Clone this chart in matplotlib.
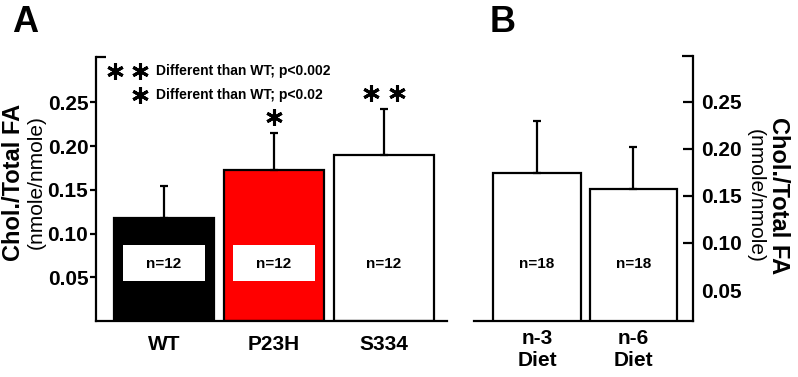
import matplotlib
matplotlib.use('Agg')
import matplotlib.pyplot as plt
import matplotlib.transforms as mtransforms
from matplotlib.patches import Rectangle
from matplotlib.ticker import FixedLocator

plt.rcParams['font.family'] = ['Liberation Sans', 'DejaVu Sans']

# ---------------- data ----------------
a_categories = ['WT', 'P23H', 'S334']
a_means = [0.118, 0.173, 0.190]
a_err = [0.037, 0.042, 0.053]
a_colors = ['#000000', '#ff0000', '#ffffff']
a_n = ['n=12', 'n=12', 'n=12']
a_sig = [0, 1, 2]

b_categories = ['n-3\nDiet', 'n-6\nDiet']
b_means = [0.174, 0.157]
b_err = [0.056, 0.045]
b_colors = ['#ffffff', '#ffffff']
b_n = ['n=18', 'n=18']

ytick_values = [0.05, 0.10, 0.15, 0.20, 0.25]
ytick_labels = ['0.05', '0.10', '0.15', '0.20', '0.25']
legend_entries = [(2, 'Different than WT; p<0.002'), (1, 'Different than WT; p<0.02')]
ylabel_main = 'Chol./Total FA'
ylabel_unit = '(nmole/nmole)'

# ---------------- layout ----------------
W, H = 798, 377
DPI = 100
fig = plt.figure(figsize=(W / DPI, H / DPI), dpi=DPI)

axA = fig.add_axes([96 / W, (H - 321) / H, (447 - 96) / W, (321 - 57) / H])
axB = fig.add_axes([474 / W, (H - 321) / H, (693 - 474) / W, (321 - 56) / H])

STAR = (6, 2, 0)
LW = 1.6
BAR_W = 0.91


def star_marks(ax, xs, ys, **kw):
    ax.plot(xs, ys, ls='none', marker=STAR, ms=12, mew=2.2, color='black',
            clip_on=False, **kw)


def draw_bars(ax, cats, means, errs, colors, nlabels):
    x = list(range(len(cats)))
    ax.bar(x, means, width=BAR_W, color=colors, edgecolor='black',
           linewidth=LW, zorder=2)
    ax.errorbar(x, means, yerr=[[0] * len(x), errs], fmt='none',
                ecolor='black', elinewidth=LW, capsize=3, capthick=LW, zorder=3)
    trans = mtransforms.blended_transform_factory(ax.transData, ax.transAxes)
    for xi, c, lab in zip(x, colors, nlabels):
        if c.lower() != '#ffffff':
            ax.add_patch(Rectangle((xi - 0.375, 0.046), 0.75, 0.041,
                                   facecolor='white', edgecolor='none', zorder=4))
        ax.text(xi, 0.215, lab, transform=trans, ha='center', va='center',
                fontsize=11, fontweight='bold', zorder=5)
    ax.set_xticks(x)
    ax.set_xticklabels(cats, fontsize=15, fontweight='bold')
    ax.tick_params(axis='x', length=0)
    return x


# ---------------- panel A ----------------
xa = draw_bars(axA, a_categories, a_means, a_err, a_colors, a_n)
axA.set_xlim(-0.618, 2.573)
axA.set_ylim(0, 0.302)
axA.spines['top'].set_visible(False)
axA.spines['right'].set_visible(False)
for s in ('left', 'bottom'):
    axA.spines[s].set_linewidth(LW)
axA.set_yticks(ytick_values)
axA.set_yticklabels(ytick_labels, fontsize=15, fontweight='bold')
axA.tick_params(axis='y', direction='out', length=4.5, width=LW, pad=1)
axA.tick_params(axis='x', pad=10)
axA.yaxis.set_minor_locator(FixedLocator([0.302]))
axA.tick_params(axis='y', which='minor', direction='in', length=7, width=LW)

# significance stars above bars
for xi, m, e, k in zip(xa, a_means, a_err, a_sig):
    for j in range(k):
        dx = (j - (k - 1) / 2) * 26 / DPI
        off = mtransforms.ScaledTranslation(dx, 16 / DPI, fig.dpi_scale_trans)
        star_marks(axA, [xi], [m + e], transform=axA.transData + off)

# legend
leg_y = [0.947, 0.856]
for (k, txt), yy in zip(legend_entries, leg_y):
    xs = [0.125 - 0.071 * j for j in range(k)]
    star_marks(axA, xs, [yy] * k, transform=axA.transAxes)
    axA.text(0.172, yy, txt, transform=axA.transAxes, ha='left', va='center',
             fontsize=10, fontweight='bold')

# ---------------- panel B ----------------
draw_bars(axB, b_categories, b_means, b_err, b_colors, b_n)
axB.set_xlim(-0.653, 1.617)
axB.set_ylim(0.0172, 0.2985)
axB.spines['top'].set_visible(False)
axB.spines['left'].set_visible(False)
for s in ('right', 'bottom'):
    axB.spines[s].set_linewidth(LW)
axB.yaxis.tick_right()
axB.set_yticks(ytick_values)
axB.set_yticklabels(ytick_labels, fontsize=15, fontweight='bold')
axB.tick_params(axis='y', direction='in', length=7, width=LW, pad=6)
axB.tick_params(axis='x', pad=6)
axB.yaxis.set_minor_locator(FixedLocator([0.2985]))
axB.tick_params(axis='y', which='minor', direction='in', length=8, width=LW)
axB.yaxis.get_major_ticks()[0].tick2line.set_visible(False)

# ---------------- labels ----------------
fig.text(14 / W, 1 - 182 / H, ylabel_main, rotation=90, fontsize=17,
         fontweight='bold', ha='center', va='center')
fig.text(36 / W, 1 - 182 / H, ylabel_unit, rotation=90, fontsize=15,
         ha='center', va='center')
fig.text(779 / W, 1 - 196 / H, ylabel_main, rotation=270, fontsize=17,
         fontweight='bold', ha='center', va='center')
fig.text(755 / W, 1 - 196 / H, ylabel_unit, rotation=270, fontsize=15,
         ha='center', va='center')

fig.text(25 / W, 1 - 22 / H, 'A', fontsize=26, fontweight='bold',
         ha='center', va='center')
fig.text(503 / W, 1 - 22 / H, 'B', fontsize=26, fontweight='bold',
         ha='center', va='center')

fig.savefig('out.png', dpi=DPI)
